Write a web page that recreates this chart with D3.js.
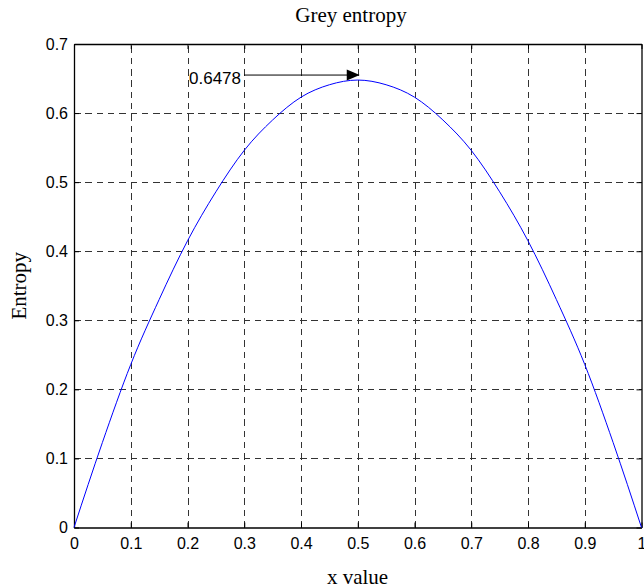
<!DOCTYPE html>
<html>
<head>
<meta charset="utf-8">
<script src="https://cdn.jsdelivr.net/npm/d3@7"></script>
<style>
    body { margin: 0; background: #fff; }
    .tick text { font-family: "Liberation Sans", Arial, sans-serif; font-size: 16px; fill: #000; }
    .grid line { stroke: #333; stroke-dasharray: 6.5,4.8; shape-rendering: crispEdges; }
</style>
</head>
<body>
<div class="chart_container"></div>
<script>
    // values
    var x_vals = [0, 0.05, 0.1, 0.15, 0.2, 0.25, 0.3, 0.35, 0.4, 0.45, 0.5,
                  0.55, 0.6, 0.65, 0.7, 0.75, 0.8, 0.85, 0.9, 0.95, 1];
    var entropy_vals = [0, 0.123, 0.236, 0.330, 0.415, 0.486, 0.546, 0.590, 0.623, 0.641, 0.6478,
                        0.641, 0.623, 0.590, 0.546, 0.486, 0.415, 0.330, 0.236, 0.123, 0];
    var x_ticks = [0, 0.1, 0.2, 0.3, 0.4, 0.5, 0.6, 0.7, 0.8, 0.9, 1];
    var x_tick_labels = ["0", "0.1", "0.2", "0.3", "0.4", "0.5", "0.6", "0.7", "0.8", "0.9", "1"];
    var y_ticks = [0, 0.1, 0.2, 0.3, 0.4, 0.5, 0.6, 0.7];
    var y_tick_labels = ["0", "0.1", "0.2", "0.3", "0.4", "0.5", "0.6", "0.7"];
    var peak_x = 0.5;
    var peak_y = 0.6478;
    var peak_label = "0.6478";

    var w = 644
    var h = 588
    var p_left = 74, p_right = 641.5, p_top = 44, p_bottom = 527.5;

    var svg = d3.select('.chart_container')
                .append('svg')
                .attr('width', w)
                .attr('height', h);

    var x_scale = d3.scaleLinear().domain([0, 1]).range([p_left, p_right]);
    var y_scale = d3.scaleLinear().domain([0, 0.7]).range([p_bottom, p_top]);

    //grid lines
    svg.append('g')
        .attr('class', 'grid')
        .attr('transform', 'translate(0,' + p_bottom + ')')
        .call(d3.axisBottom(x_scale).tickValues(x_ticks.slice(1, -1)).tickSize(-(p_bottom - p_top)).tickFormat(''))
        .call(g => g.select('.domain').remove());
    svg.append('g')
        .attr('class', 'grid')
        .attr('transform', 'translate(' + p_left + ',0)')
        .call(d3.axisLeft(y_scale).tickValues(y_ticks.slice(1, -1)).tickSize(-(p_right - p_left)).tickFormat(''))
        .call(g => g.select('.domain').remove());

    //axes with inward ticks
    var x_axis = d3.axisBottom(x_scale)
                    .tickValues(x_ticks)
                    .tickFormat((d, i) => x_tick_labels[i])
                    .tickSizeInner(-5).tickSizeOuter(0)
                    .tickPadding(10);
    svg.append('g')
        .attr('transform', 'translate(0,' + p_bottom + ')')
        .call(x_axis);
    svg.append('g')
        .attr('transform', 'translate(0,' + p_top + ')')
        .call(d3.axisTop(x_scale).tickValues(x_ticks).tickFormat('').tickSizeInner(-5).tickSizeOuter(0));

    var y_axis = d3.axisLeft(y_scale)
                    .tickValues(y_ticks)
                    .tickFormat((d, i) => y_tick_labels[i])
                    .tickSizeInner(-5).tickSizeOuter(0)
                    .tickPadding(6);
    svg.append('g')
        .attr('transform', 'translate(' + p_left + ',0)')
        .call(y_axis);
    svg.append('g')
        .attr('transform', 'translate(' + p_right + ',0)')
        .call(d3.axisRight(y_scale).tickValues(y_ticks).tickFormat('').tickSizeInner(-5).tickSizeOuter(0));

    svg.selectAll('.domain').attr('stroke', '#000').attr('stroke-width', 1.3);
    svg.selectAll('.tick line').filter(function(){ return !this.closest('.grid'); }).attr('stroke', '#000');

    //curve
    var line = d3.line()
                .x(d => x_scale(d[0]))
                .y(d => y_scale(d[1]))
                .curve(d3.curveMonotoneX);
    svg.append('path')
        .datum(x_vals.map((x, i) => [x, entropy_vals[i]]))
        .attr('d', line)
        .attr('fill', 'none')
        .attr('stroke', '#0000ff')
        .attr('stroke-width', 1);

    //annotation arrow
    var ay = y_scale(peak_y) - 5;
    var tip_x = x_scale(peak_x) + 2;
    svg.append('path')
        .attr('d', d3.line()([[244, ay], [tip_x - 12, ay]]))
        .attr('stroke', '#000')
        .attr('stroke-width', 1);
    svg.append('path')
        .attr('d', d3.line()([[tip_x - 13, ay - 5.5], [tip_x, ay], [tip_x - 13, ay + 5.5]]) + 'Z')
        .attr('fill', '#000');
    svg.append('text')
        .attr('x', 241)
        .attr('y', ay + 9)
        .style('font-family', '"Liberation Sans", Arial, sans-serif')
        .style('font-size', '17px')
        .style('text-anchor', 'end')
        .text(peak_label);

    //titles
    svg.append('text')
        .attr('x', 351)
        .attr('y', 22)
        .style('font-family', '"Liberation Serif", "Times New Roman", serif')
        .style('font-size', '21px')
        .style('text-anchor', 'middle')
        .text('Grey entropy');
    svg.append('text')
        .attr('x', 357.5)
        .attr('y', 584)
        .style('font-family', '"Liberation Serif", "Times New Roman", serif')
        .style('font-size', '21px')
        .style('text-anchor', 'middle')
        .text('x value');
    svg.append('text')
        .attr('transform', 'translate(26,' + ((p_top + p_bottom) / 2) + ') rotate(-90)')
        .style('font-family', '"Liberation Serif", "Times New Roman", serif')
        .style('font-size', '21px')
        .style('text-anchor', 'middle')
        .text('Entropy');
</script>
</body>
</html>
